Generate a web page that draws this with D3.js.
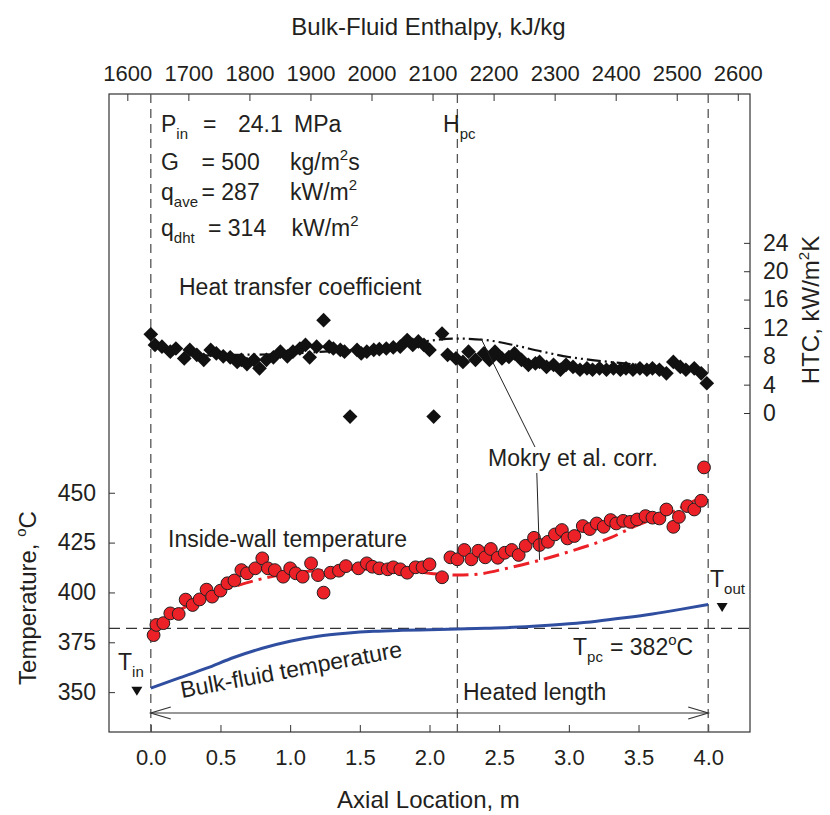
<!DOCTYPE html>
<html><head><meta charset="utf-8">
<script src="https://cdn.jsdelivr.net/npm/d3@7"></script>
<style>
body{margin:0;background:#fff}
text{font-family:"Liberation Sans",Arial,Helvetica,sans-serif;fill:#231f20}
</style>
</head><body>
<svg id="c" width="830" height="815"></svg>
<script>
// ---------- data ----------
const htcX = [0.00,0.03,0.08,0.14,0.18,0.24,0.28,0.33,0.38,0.43,0.47,0.52,0.57,0.62,0.65,0.69,0.74,0.78,0.83,0.88,0.93,0.98,1.02,1.07,1.11,1.14,1.19,1.24,1.28,1.31,1.36,1.39,1.43,1.48,1.51,1.55,1.60,1.64,1.69,1.74,1.79,1.84,1.88,1.92,1.96,2.00,2.03,2.09,2.13,2.19,2.24,2.28,2.33,2.39,2.43,2.47,2.52,2.57,2.61,2.66,2.71,2.76,2.79,2.84,2.89,2.94,2.98,3.03,3.08,3.13,3.17,3.22,3.27,3.32,3.37,3.41,3.46,3.51,3.56,3.60,3.65,3.70,3.75,3.80,3.84,3.90,3.95,3.99];
const htcVal = [11.1,9.6,9.35,8.65,9.1,7.7,8.9,8.2,7.5,8.9,8.4,8.0,7.85,7.2,7.5,6.9,7.5,6.3,7.5,7.85,8.65,8.0,8.65,9.1,9.6,7.85,9.35,13.1,9.35,9.1,8.9,8.65,-0.5,8.9,8.4,8.65,8.9,9.0,9.1,9.25,9.35,10.3,9.6,10.1,9.6,8.9,-0.5,11.2,8.2,7.7,7.2,8.65,7.5,8.4,7.5,8.65,7.7,7.9,8.4,7.5,6.8,7.0,7.2,6.5,6.8,6.1,6.8,6.5,6.1,6.3,6.1,6.3,6.1,6.3,6.1,6.3,6.1,6.3,6.1,6.3,6.1,5.6,7.2,6.5,6.1,6.3,5.6,4.2];

const wallX = [0.02,0.04,0.09,0.14,0.20,0.25,0.30,0.35,0.40,0.44,0.50,0.55,0.60,0.65,0.69,0.75,0.80,0.84,0.89,0.95,1.00,1.04,1.09,1.15,1.20,1.24,1.29,1.35,1.40,1.49,1.55,1.59,1.64,1.70,1.74,1.79,1.84,1.90,1.95,2.00,2.09,2.15,2.20,2.25,2.30,2.35,2.40,2.44,2.49,2.54,2.59,2.64,2.69,2.75,2.79,2.85,2.90,2.95,2.99,3.04,3.10,3.15,3.20,3.25,3.30,3.34,3.39,3.44,3.49,3.55,3.60,3.65,3.70,3.75,3.79,3.85,3.90,3.95,3.97];
const wallT = [378.6,383.7,384.6,389.5,389.2,396.4,393.7,396.5,401.4,397.9,400.9,404.6,406.0,411.2,409.6,412.1,417.1,412.1,411.2,407.9,412.1,409.6,407.9,414.6,408.7,399.9,409.9,410.9,413.2,412.1,414.6,412.9,412.1,411.6,412.6,411.6,409.9,412.6,412.6,414.1,407.6,417.6,416.6,421.3,416.6,420.9,417.6,421.8,417.4,419.9,421.3,418.8,423.4,427.4,423.8,425.4,429.1,431.3,427.1,428.3,433.3,431.8,434.6,432.9,436.3,434.6,435.9,435.4,436.6,438.3,437.5,437.1,441.6,432.9,437.9,443.3,441.6,446.0,462.7];

const corrWallX = [0.02,0.15,0.30,0.50,0.75,1.00,1.30,1.60,1.90,2.10,2.20,2.35,2.55,2.80,3.05,3.30,3.50,3.75,3.92,4.00];
const corrWallT = [383.5,389.0,394.5,400.5,406.0,409.7,411.2,411.7,410.4,409.0,408.7,409.2,412.0,416.3,421.5,427.5,434.0,440.5,446.5,448.0];

const corrHtcX = [0.35,0.6,0.9,1.2,1.5,1.8,2.0,2.2,2.4,2.6,2.8,3.0,3.2,3.4,3.55];
const corrHtcV = [8.1,8.2,8.3,8.6,9.0,9.6,10.2,10.5,10.3,9.6,8.7,7.9,7.4,7.0,6.7];

const bulkX = [0.0,0.2,0.4,0.6,0.8,1.0,1.2,1.4,1.6,1.8,2.0,2.2,2.4,2.6,2.8,3.0,3.2,3.4,3.6,3.8,4.0];
const bulkT = [352,357,362,367.5,372,375.5,378,379.5,380.5,381,381.3,381.6,382,382.5,383.3,384.3,385.6,387.3,389.2,391.5,394];

const xTicks = [0,0.5,1.0,1.5,2.0,2.5,3.0,3.5,4.0];
const hTicks = [1600,1700,1800,1900,2000,2100,2200,2300,2400,2500,2600];
const tTicks = [350,375,400,425,450];
const htcTicks = [0,4,8,12,16,20,24];

const Tpc = 382, xPc = 2.2, xIn = 0, xOut = 4.0;

// ---------- scales ----------
const L=109, R=750, T=94, B=732;
const x = d3.scaleLinear([-0.3,4.3],[L,R]);
const xE = d3.scaleLinear([1570,2620],[L,R]);
const yT = d3.scaleLinear([330,650],[B,T]);
const yH = d3.scaleLinear([-45,45],[B,T]);

const svg = d3.select("#c");
const FS = 23;

// ---------- axes ----------
function styleAxis(g, fs){
  g.select(".domain").remove();
  g.selectAll(".tick line").attr("stroke","#333").attr("stroke-width",1);
  g.selectAll(".tick text").attr("font-size",fs).attr("font-family","Liberation Sans, Arial, sans-serif").attr("fill","#231f20");
}
svg.append("g").attr("transform",`translate(0,${B})`)
  .call(d3.axisBottom(x).tickValues(xTicks).tickFormat(d3.format(".1f")).tickSizeInner(-7).tickSizeOuter(0).tickPadding(17))
  .call(g=>styleAxis(g,22));
svg.append("g").attr("transform",`translate(0,${T})`)
  .call(d3.axisTop(xE).tickValues(hTicks).tickFormat(d3.format("d")).tickSizeInner(-7).tickSizeOuter(0).tickPadding(13))
  .call(g=>styleAxis(g,22));
svg.append("g").attr("transform",`translate(${L},0)`)
  .call(d3.axisLeft(yT).tickValues(tTicks).tickFormat(d3.format("d")).tickSizeInner(-6).tickSizeOuter(0).tickPadding(13))
  .call(g=>styleAxis(g,23));
svg.append("g").attr("transform",`translate(${R},0)`)
  .call(d3.axisRight(yH).tickValues(htcTicks).tickFormat(d3.format("d")).tickSizeInner(-6).tickSizeOuter(0).tickPadding(13))
  .call(g=>styleAxis(g,23));

svg.append("rect").attr("x",L).attr("y",T).attr("width",R-L).attr("height",B-T)
  .attr("fill","none").attr("stroke","#333").attr("stroke-width",1.2);

// ---------- axis titles ----------
svg.append("text").attr("x",(L+R)/2-1).attr("y",35).attr("text-anchor","middle").attr("font-size",24).text("Bulk-Fluid Enthalpy, kJ/kg");
svg.append("text").attr("x",(L+R)/2-1).attr("y",808).attr("text-anchor","middle").attr("font-size",24).text("Axial Location, m");
const lt = svg.append("text").attr("transform","translate(36,598) rotate(-90)").attr("text-anchor","middle").attr("font-size",24);
lt.append("tspan").text("Temperature, ");
lt.append("tspan").attr("font-size",15).attr("dy",-10).text("o");
lt.append("tspan").attr("dy",10).text("C");
const rt = svg.append("text").attr("transform","translate(819,310) rotate(-90)").attr("text-anchor","middle").attr("font-size",24);
rt.append("tspan").text("HTC, kW/m");
rt.append("tspan").attr("font-size",15).attr("dy",-10).text("2");
rt.append("tspan").attr("dy",10).text("K");

// ---------- reference lines ----------
[xIn,xPc,xOut].forEach(v=>{
  svg.append("line").attr("x1",x(v)).attr("x2",x(v)).attr("y1",T).attr("y2",B)
    .attr("stroke","#555").attr("stroke-width",1.3).attr("stroke-dasharray","9,6");
});
svg.append("line").attr("x1",L).attr("x2",R).attr("y1",yT(Tpc)).attr("y2",yT(Tpc))
  .attr("stroke","#333").attr("stroke-width",1.2).attr("stroke-dasharray","11,6");

// ---------- curves ----------
const lineT = d3.line().curve(d3.curveMonotoneX);
svg.append("path").attr("d",lineT(bulkX.map((v,i)=>[x(v),yT(bulkT[i])])))
  .attr("fill","none").attr("stroke","#2f4ea0").attr("stroke-width",3);
svg.append("path").attr("d",lineT(corrWallX.map((v,i)=>[x(v),yT(corrWallT[i])])))
  .attr("fill","none").attr("stroke","#ec2027").attr("stroke-width",3).attr("stroke-dasharray","16,6,3,6");
svg.append("path").attr("d",lineT(corrHtcX.map((v,i)=>[x(v),yH(corrHtcV[i])])))
  .attr("fill","none").attr("stroke","#111").attr("stroke-width",2.2).attr("stroke-dasharray","14,4,2,4,2,4");

// ---------- markers ----------
const diamond = d3.symbol().type(d3.symbolSquare).size(108);
svg.append("g").selectAll("path").data(htcX).join("path")
  .attr("d",diamond).attr("transform",(d,i)=>`translate(${x(d)},${yH(htcVal[i])}) rotate(45)`)
  .attr("fill","#111");
svg.append("g").selectAll("circle").data(wallX).join("circle")
  .attr("cx",d=>x(d)).attr("cy",(d,i)=>yT(wallT[i])).attr("r",6.4)
  .attr("fill","#ec2027").attr("stroke","#231f20").attr("stroke-width",1);

// ---------- annotations ----------
function sub(parent, base, s, ox, baseline){
  const t = svg.append("text").attr("x",ox).attr("y",baseline).attr("font-size",FS);
  t.append("tspan").text(base);
  t.append("tspan").attr("font-size",15).attr("dy",7).text(s);
  return t;
}
function plain(txt, ox, baseline, fs){
  return svg.append("text").attr("x",ox).attr("y",baseline).attr("font-size",fs||FS).text(txt);
}
function withSup(txt, sup, after, ox, baseline){
  const t = svg.append("text").attr("x",ox).attr("y",baseline).attr("font-size",FS);
  t.append("tspan").text(txt);
  t.append("tspan").attr("font-size",15).attr("dy",-10).text(sup);
  if(after) t.append("tspan").attr("dy",10).text(after);
  return t;
}
// parameter block
sub(null,"P","in",161,132);
plain("=",203,132); plain("24.1",238,132); plain("MPa",294,132);
plain("G",161,170); plain("= 500",201.5,170); withSup("kg/m","2","s",290,170);
sub(null,"q","ave",161,200); plain("= 287",201.5,200); withSup("kW/m","2",null,290,200);
sub(null,"q","dht",161,236); plain("= 314",208,236); withSup("kW/m","2",null,291.5,236);

sub(null,"H","pc",443,132);
plain("Heat transfer coefficient",179,295);
plain("Inside-wall temperature",168,547);
plain("Mokry et al. corr.",488,466);
plain("Heated length",463,700);
svg.append("text").attr("transform","translate(182,698) rotate(-10.6)").attr("font-size",FS).text("Bulk-fluid temperature");

// Tpc label
sub(null,"T","pc",573,655);
withSup("= 382","o","C",610,655);

// Tin / Tout
sub(null,"T","in",118,670);
sub(null,"T","out",710,587);
const tri = d=>`M${d[0]-5.5},${d[1]-4.5}L${d[0]+5.5},${d[1]-4.5}L${d[0]},${d[1]+4.5}Z`;
svg.append("path").attr("d",tri([x(-0.1),yT(bulkT[0])+3])).attr("fill","#111");
svg.append("path").attr("d",tri([x(4.1),yT(bulkT[bulkT.length-1])+3])).attr("fill","#111");

// leader lines for Mokry correlation label
svg.append("line").attr("x1",x(2.757)).attr("y1",447).attr("x2",x(2.37)).attr("y2",yH(10.5)).attr("stroke","#222").attr("stroke-width",1);
svg.append("line").attr("x1",x(2.77)).attr("y1",473).attr("x2",x(2.79)).attr("y2",yT(416.3)).attr("stroke","#222").attr("stroke-width",1);

// heated length double arrow
const ay = 713;
svg.append("line").attr("x1",x(xIn)).attr("x2",x(xOut)).attr("y1",ay).attr("y2",ay).attr("stroke","#333").attr("stroke-width",1.2);
[[x(xIn),1],[x(xOut),-1]].forEach(([px,s])=>{
  svg.append("path").attr("d",`M${px+s*20},${ay-6}L${px},${ay}L${px+s*20},${ay+6}`)
    .attr("fill","none").attr("stroke","#333").attr("stroke-width",1.2);
});
</script>
</body></html>
